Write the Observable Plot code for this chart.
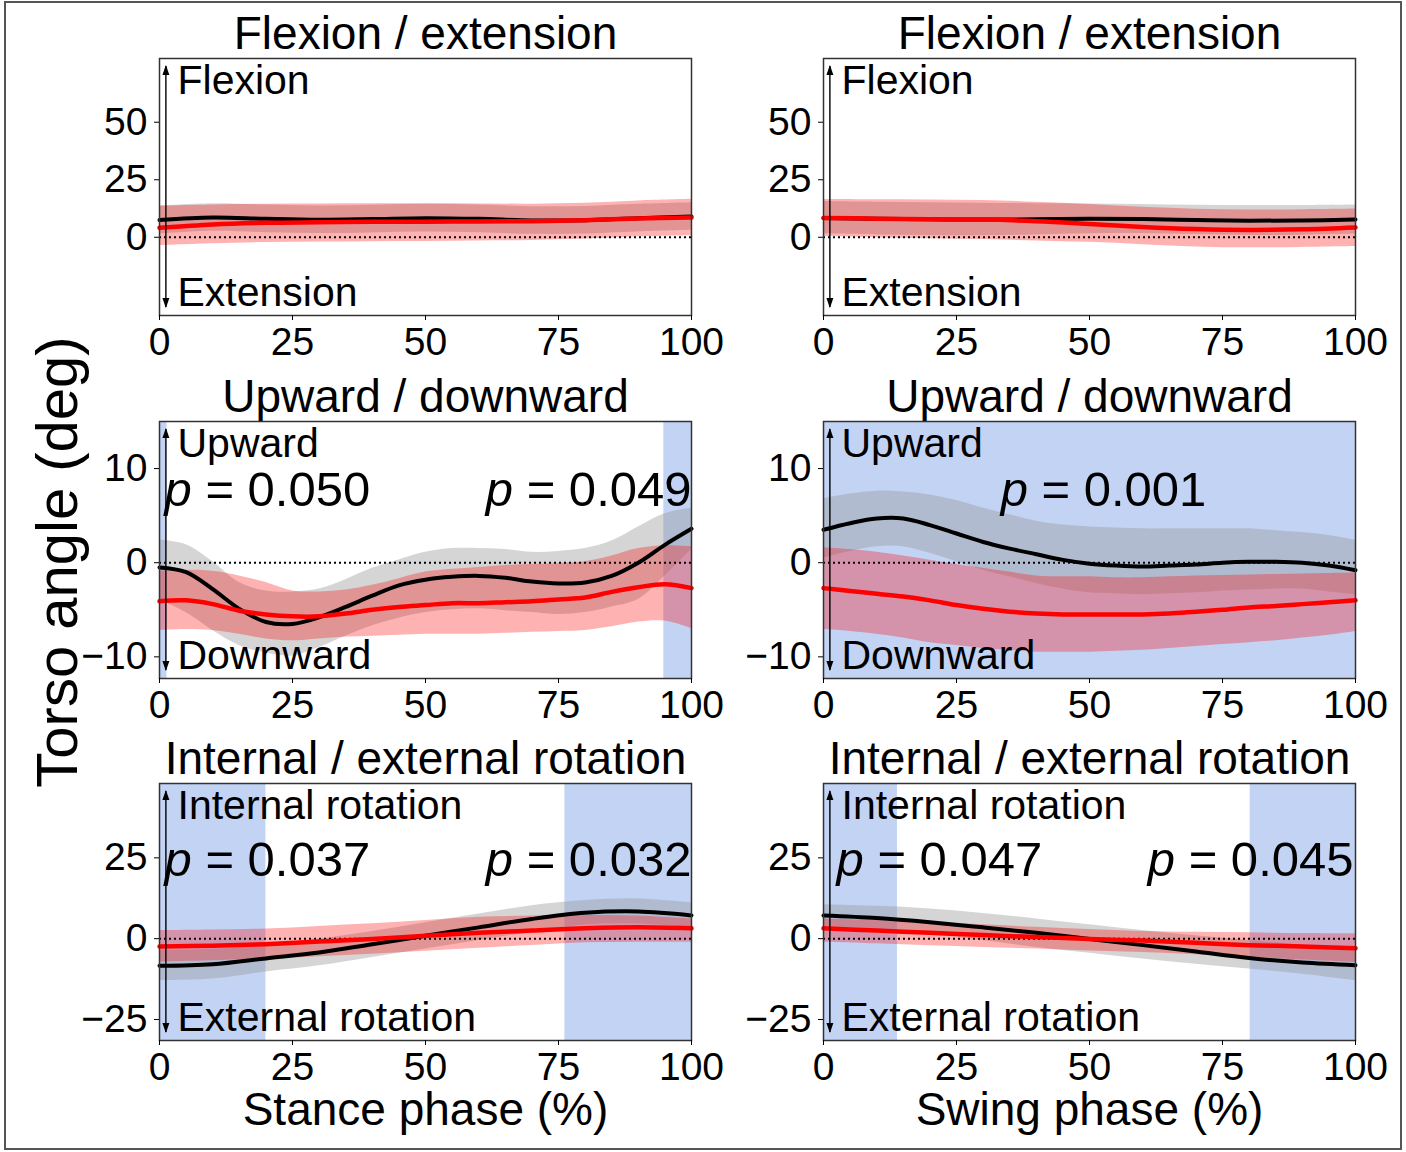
<!DOCTYPE html>
<html>
<head>
<meta charset="utf-8">
<script src="https://cdn.jsdelivr.net/npm/d3@7"></script>
<script src="https://cdn.jsdelivr.net/npm/@observablehq/plot@0.6"></script>
<style>
  body { margin: 0; background: #fff; }
  #fig { position: relative; width: 1406px; height: 1152px; background: #fff; overflow: hidden;
         font-family: "Liberation Sans", Arial, sans-serif; }
  #border { position: absolute; left: 4px; top: 1px; width: 1398px; height: 1149px;
            border: 2px solid #555; box-sizing: border-box; }
  .panel { position: absolute; }
  .panel svg { max-width: none !important; overflow: visible; }
</style>
</head>
<body>
<div id="fig"><div id="border"></div></div>
<script>
// ------------------------------------------------------------------ data
const xTicks = [0, 25, 50, 75, 100];
const yTicksFlex = [0, 25, 50];
const yTicksUpDown = [-10, 0, 10];
const yTicksRot = [-25, 0, 25];
const yDomainFlex = [-34, 77.7];
const yDomainUpDown = [-12.3, 15];
const yDomainRot = [-31.5, 48];

const rowTitles = ["Flexion / extension", "Upward / downward", "Internal / external rotation"];
const upperLabels = ["Flexion", "Upward", "Internal rotation"];
const lowerLabels = ["Extension", "Downward", "External rotation"];
const xLabels = ["Stance phase (%)", "Swing phase (%)"];
const yLabel = "Torso angle (deg)";

const pct10 = [0, 10, 20, 30, 40, 50, 60, 70, 80, 90, 100];
const pct5 = [0, 5, 10, 15, 20, 25, 30, 35, 40, 45, 50, 55, 60, 65, 70, 75, 80, 85, 90, 95, 100];

// Flexion / extension - stance
const flexStanceBlack   = [7.5, 8.6, 8.0, 7.6, 7.9, 8.3, 8.0, 7.3, 7.4, 8.3, 9.0];
const flexStanceBlackHi = [13.6, 14.6, 14.0, 13.6, 13.9, 14.3, 14.0, 13.3, 13.4, 14.3, 15.0];
const flexStanceBlackLo = [1.4, 2.6, 2.0, 1.6, 1.9, 2.3, 2.0, 1.3, 1.4, 2.3, 3.0];
const flexStanceRed     = [4.1, 5.6, 6.3, 6.5, 6.7, 6.8, 6.9, 7.0, 7.4, 8.2, 8.6];
const flexStanceRedHi   = [13.5, 14.0, 14.4, 14.5, 14.6, 14.6, 14.5, 14.4, 14.8, 15.8, 16.5];
const flexStanceRedLo   = [-3.6, -2.8, -2.3, -2.1, -1.9, -1.8, -1.6, -1.4, -0.8, 0.2, 0.7];

// Flexion / extension - swing
const flexSwingBlack   = [8.4, 8.0, 7.8, 7.7, 7.8, 8.0, 7.9, 7.5, 7.2, 7.3, 7.7];
const flexSwingBlackHi = [15.5, 15.2, 15.0, 14.8, 14.6, 14.5, 14.2, 13.9, 13.8, 13.8, 14.0];
const flexSwingBlackLo = [1.5, 1.0, 0.8, 0.7, 1.0, 1.5, 1.6, 1.2, 0.8, 0.9, 1.4];
const flexSwingRed     = [8.4, 8.1, 7.8, 7.7, 7.0, 5.8, 4.5, 3.6, 3.2, 3.5, 4.3];
const flexSwingRedHi   = [16.4, 16.3, 16.2, 16.0, 15.2, 14.2, 13.0, 12.2, 11.9, 12.0, 12.3];
const flexSwingRedLo   = [0.3, -0.2, -0.6, -1.0, -1.6, -2.2, -3.2, -4.2, -4.6, -4.4, -4.0];

// Upward / downward - stance (5 % steps)
const udStanceBlack   = [-0.5, -1.0, -2.8, -4.9, -6.3, -6.5, -5.8, -4.7, -3.5, -2.4, -1.8, -1.5, -1.4, -1.6, -2.0, -2.2, -2.1, -1.4, 0.0, 1.9, 3.6];
const udStanceBlackHi = [2.4, 1.9, 0.1, -2.1, -3.0, -3.1, -2.8, -1.8, -0.6, 0.3, 1.1, 1.5, 1.5, 1.4, 1.1, 1.2, 1.5, 2.3, 3.8, 5.2, 5.8];
const udStanceBlackLo = [-3.9, -5.3, -7.2, -8.8, -9.6, -9.9, -9.0, -7.8, -6.7, -5.9, -5.3, -5.0, -4.9, -5.1, -5.3, -5.5, -5.3, -4.7, -3.9, -1.4, 1.4];
const udStanceRed     = [-4.1, -4.0, -4.4, -5.1, -5.5, -5.7, -5.7, -5.4, -5.0, -4.7, -4.5, -4.3, -4.3, -4.2, -4.1, -3.9, -3.7, -3.1, -2.6, -2.3, -2.7];
const udStanceRedHi   = [-0.9, -0.8, -0.9, -1.4, -2.1, -3.0, -3.1, -2.9, -2.4, -1.7, -1.0, -0.7, -0.5, -0.3, -0.2, -0.1, 0.1, 0.7, 1.5, 1.8, 1.7];
const udStanceRedLo   = [-7.2, -7.1, -7.2, -7.6, -8.1, -8.3, -8.1, -7.9, -7.8, -7.7, -7.6, -7.6, -7.6, -7.5, -7.4, -7.3, -7.2, -6.8, -6.3, -6.2, -7.0];

// Upward / downward - swing (5 % steps)
const udSwingBlack   = [3.5, 4.2, 4.7, 4.7, 4.0, 3.1, 2.2, 1.5, 0.9, 0.3, -0.1, -0.3, -0.4, -0.3, -0.2, 0.0, 0.1, 0.1, 0.0, -0.3, -0.8];
const udSwingBlackHi = [6.8, 7.3, 7.6, 7.5, 7.2, 6.6, 5.8, 5.1, 4.4, 4.0, 3.8, 3.7, 3.6, 3.6, 3.6, 3.6, 3.6, 3.4, 3.2, 2.9, 2.4];
const udSwingBlackLo = [0.5, 1.2, 1.7, 1.7, 1.0, 0.1, -0.8, -1.5, -2.2, -2.8, -3.2, -3.3, -3.4, -3.3, -3.2, -3.0, -2.9, -2.8, -2.8, -3.1, -3.4];
const udSwingRed     = [-2.7, -3.0, -3.3, -3.6, -4.0, -4.5, -4.9, -5.2, -5.4, -5.5, -5.5, -5.5, -5.5, -5.4, -5.2, -5.0, -4.75, -4.6, -4.4, -4.2, -4.0];
const udSwingRedHi   = [1.6, 1.4, 1.1, 0.7, 0.25, -0.2, -0.6, -1.0, -1.4, -1.5, -1.5, -1.6, -1.6, -1.5, -1.4, -1.35, -1.3, -1.25, -1.2, -1.15, -1.1];
const udSwingRedLo   = [-7.1, -7.3, -7.6, -8.0, -8.5, -8.8, -9.1, -9.3, -9.5, -9.5, -9.5, -9.4, -9.3, -9.1, -8.9, -8.7, -8.5, -8.3, -8.0, -7.7, -7.3];

// Internal / external rotation - stance
const rotStanceBlack   = [-8.4, -7.9, -6.1, -4.3, -1.7, 0.9, 3.5, 6.1, 8.0, 8.4, 7.2];
const rotStanceBlackHi = [-3.6, -3.3, -1.8, -0.2, 2.2, 4.9, 7.6, 10.2, 11.8, 12.3, 11.1];
const rotStanceBlackLo = [-13.0, -12.5, -10.3, -8.4, -5.8, -3.2, -0.6, 2.0, 4.2, 4.5, 3.3];
const rotStanceRed     = [-2.4, -2.2, -1.7, -0.9, -0.1, 0.9, 1.8, 2.5, 3.2, 3.5, 3.2];
const rotStanceRedHi   = [2.5, 2.7, 3.0, 3.8, 4.6, 5.6, 6.6, 7.0, 7.2, 7.0, 6.1];
const rotStanceRedLo   = [-7.2, -6.8, -6.3, -5.6, -4.8, -3.9, -3.0, -2.1, -1.3, -1.1, -1.1];

// Internal / external rotation - swing
const rotSwingBlack   = [7.2, 6.4, 5.1, 3.5, 1.8, -0.1, -2.0, -4.0, -6.0, -7.4, -8.2];
const rotSwingBlackHi = [10.5, 10.0, 9.2, 7.8, 6.1, 4.3, 2.5, 0.9, -0.6, -2.0, -3.2];
const rotSwingBlackLo = [3.8, 2.8, 1.5, -0.6, -2.7, -4.5, -6.3, -7.9, -9.4, -11.0, -13.0];
const rotSwingRed     = [3.2, 2.5, 1.8, 1.1, 0.5, -0.1, -0.6, -1.3, -2.0, -2.4, -3.0];
const rotSwingRedHi   = [6.1, 5.6, 5.1, 4.3, 3.5, 2.8, 2.2, 2.0, 1.8, 1.6, 1.5];
const rotSwingRedLo   = [-1.1, -1.6, -2.2, -2.7, -3.2, -3.8, -4.3, -5.0, -5.8, -6.6, -7.4];

// significant intervals (% of phase) and p-values
const spansFlexStance = [];
const spansFlexSwing = [];
const spansUdStance = [[0, 1.4], [94.8, 100]];
const spansUdSwing = [[0, 100]];
const spansRotStance = [[0, 20], [76.2, 100]];
const spansRotSwing = [[0, 13.9], [80.2, 100]];
const pUdStance = ["p = 0.050", "p = 0.049"];
const pUdSwing = ["p = 0.001"];
const pRotStance = ["p = 0.037", "p = 0.032"];
const pRotSwing = ["p = 0.047", "p = 0.045"];

// ------------------------------------------------------------------ layout / style
const FONT = "'Liberation Sans', Arial, Helvetica, sans-serif";
const BLUE = "rgb(194,211,244)";
const GREY = "#9c9c9c";
const RED = "#ff0000";
const CURVE = "catmull-rom";
const ARROW_X = 1.2;
const colLeft = [159, 823];
const rowTop = [58, 421, 783];
const frameW = 532, frameH = 257;

const panels = [
  {row: 0, col: 0, x: pct10, bm: flexStanceBlack, bhi: flexStanceBlackHi, blo: flexStanceBlackLo, rm: flexStanceRed, rhi: flexStanceRedHi, rlo: flexStanceRedLo, spans: spansFlexStance, yDomain: yDomainFlex, yTicks: yTicksFlex, p: []},
  {row: 0, col: 1, x: pct10, bm: flexSwingBlack, bhi: flexSwingBlackHi, blo: flexSwingBlackLo, rm: flexSwingRed, rhi: flexSwingRedHi, rlo: flexSwingRedLo, spans: spansFlexSwing, yDomain: yDomainFlex, yTicks: yTicksFlex, p: []},
  {row: 1, col: 0, x: pct5, bm: udStanceBlack, bhi: udStanceBlackHi, blo: udStanceBlackLo, rm: udStanceRed, rhi: udStanceRedHi, rlo: udStanceRedLo, spans: spansUdStance, yDomain: yDomainUpDown, yTicks: yTicksUpDown,
    p: [{t: pUdStance[0], anchor: "top-left", dx: 5, dy: 84}, {t: pUdStance[1], anchor: "top-right", dx: 0, dy: 84}]},
  {row: 1, col: 1, x: pct5, bm: udSwingBlack, bhi: udSwingBlackHi, blo: udSwingBlackLo, rm: udSwingRed, rhi: udSwingRedHi, rlo: udSwingRedLo, spans: spansUdSwing, yDomain: yDomainUpDown, yTicks: yTicksUpDown,
    p: [{t: pUdSwing[0], anchor: "top", dx: 14, dy: 84}]},
  {row: 2, col: 0, x: pct10, bm: rotStanceBlack, bhi: rotStanceBlackHi, blo: rotStanceBlackLo, rm: rotStanceRed, rhi: rotStanceRedHi, rlo: rotStanceRedLo, spans: spansRotStance, yDomain: yDomainRot, yTicks: yTicksRot,
    p: [{t: pRotStance[0], anchor: "top-left", dx: 5, dy: 92}, {t: pRotStance[1], anchor: "top-right", dx: 0, dy: 92}]},
  {row: 2, col: 1, x: pct10, bm: rotSwingBlack, bhi: rotSwingBlackHi, blo: rotSwingBlackLo, rm: rotSwingRed, rhi: rotSwingRedHi, rlo: rotSwingRedLo, spans: spansRotSwing, yDomain: yDomainRot, yTicks: yTicksRot,
    p: [{t: pRotSwing[0], anchor: "top-left", dx: 13, dy: 92}, {t: pRotSwing[1], anchor: "top-right", dx: -2, dy: 92}]}
];

const fig = document.getElementById("fig");

for (const cfg of panels) {
  const rows = cfg.x.map((x, i) => ({x, bm: cfg.bm[i], bhi: cfg.bhi[i], blo: cfg.blo[i], rm: cfg.rm[i], rhi: cfg.rhi[i], rlo: cfg.rlo[i]}));
  const mL = cfg.col === 0 ? 159 : 100;
  const mR = cfg.col === 0 ? 40 : 45;
  const mT = cfg.row === 0 ? 58 : 60;
  const mB = cfg.row === 2 ? 100 : 50;
  const marks = [];
  if (cfg.spans.length) marks.push(Plot.rect(cfg.spans, {x1: d => d[0], x2: d => d[1], fill: BLUE}));
  marks.push(
    Plot.areaY(rows, {x: "x", y1: "blo", y2: "bhi", fill: GREY, fillOpacity: 0.42, curve: CURVE}),
    Plot.areaY(rows, {x: "x", y1: "rlo", y2: "rhi", fill: RED, fillOpacity: 0.3, curve: CURVE}),
    Plot.ruleY([0], {stroke: "#000", strokeWidth: 2, strokeDasharray: "2,3"}),
    Plot.lineY(rows, {x: "x", y: "bm", stroke: "#000", strokeWidth: 4, curve: CURVE}),
    Plot.lineY(rows, {x: "x", y: "rm", stroke: RED, strokeWidth: 4.5, curve: CURVE}),
    Plot.ruleX([ARROW_X], {stroke: "#000", strokeWidth: 1.4, insetTop: 8, insetBottom: 8, markerStart: "arrow-reverse", markerEnd: "arrow"}),
    Plot.text([upperLabels[cfg.row]], {text: d => d, frameAnchor: "top-left", lineAnchor: "top", textAnchor: "start", dx: 18, dy: 6, fontSize: 41, fill: "#000"}),
    Plot.text([lowerLabels[cfg.row]], {text: d => d, frameAnchor: "bottom-left", lineAnchor: "bottom", textAnchor: "start", dx: 18, dy: -10, fontSize: 41, fill: "#000"}),
    Plot.text([rowTitles[cfg.row]], {text: d => d, frameAnchor: "top", lineAnchor: "bottom", textAnchor: "middle", dy: -10, fontSize: 46, fill: "#000"})
  );
  for (const p of cfg.p) {
    marks.push(Plot.text([p.t], {text: d => d, frameAnchor: p.anchor, lineAnchor: "bottom",
      textAnchor: p.anchor === "top-left" ? "start" : p.anchor === "top-right" ? "end" : "middle",
      dx: p.dx, dy: p.dy, fontSize: 49, fill: "#000"}));
  }
  if (cfg.row === 2) {
    marks.push(Plot.text([xLabels[cfg.col]], {text: d => d, frameAnchor: "bottom", lineAnchor: "bottom", textAnchor: "middle", dy: 84, fontSize: 46, fill: "#000"}));
  }
  if (cfg.row === 1 && cfg.col === 0) {
    marks.push(Plot.text([yLabel], {text: d => d, frameAnchor: "left", lineAnchor: "middle", textAnchor: "middle", rotate: -90, dx: -101, dy: 12, fontSize: 58, fill: "#000"}));
  }
  marks.push(
    Plot.frame({stroke: "#333", strokeWidth: 1.5}),
    Plot.axisX({ticks: xTicks, tickSize: 5, tickPadding: 7, label: null, tickFormat: d => String(d)}),
    Plot.axisY({ticks: cfg.yTicks, tickSize: 5, tickPadding: 7, label: null})
  );

  const svg = Plot.plot({
    width: mL + frameW + mR,
    height: mT + frameH + mB,
    marginLeft: mL, marginRight: mR, marginTop: mT, marginBottom: mB,
    x: {domain: [0, 100]},
    y: {domain: cfg.yDomain},
    style: {fontFamily: FONT, fontSize: "39px", background: "transparent", color: "#000", overflow: "visible"},
    marks
  });

  // filled arrowheads
  svg.querySelectorAll("marker").forEach(m => {
    m.setAttribute("viewBox", "-11 -5 13 10");
    m.setAttribute("markerWidth", 13);
    m.setAttribute("markerHeight", 10);
    m.setAttribute("markerUnits", "userSpaceOnUse");
    m.setAttribute("fill", "#000");
    m.setAttribute("stroke", "none");
    const path = m.querySelector("path");
    if (path) path.setAttribute("d", "M-9,-3.5L1,0L-9,3.5Z");
  });
  // italic p in p-value annotations
  svg.querySelectorAll("text").forEach(t => {
    const s = t.textContent;
    if (/^p = /.test(s)) {
      t.textContent = "";
      const it = document.createElementNS("http://www.w3.org/2000/svg", "tspan");
      it.setAttribute("font-style", "italic");
      it.textContent = "p";
      t.appendChild(it);
      t.appendChild(document.createTextNode(s.slice(1)));
    }
  });

  const div = document.createElement("div");
  div.className = "panel";
  div.style.left = (colLeft[cfg.col] - mL) + "px";
  div.style.top = (rowTop[cfg.row] - mT) + "px";
  div.style.width = (mL + frameW + mR) + "px";
  div.appendChild(svg);
  fig.appendChild(div);
}
</script>
</body>
</html>
